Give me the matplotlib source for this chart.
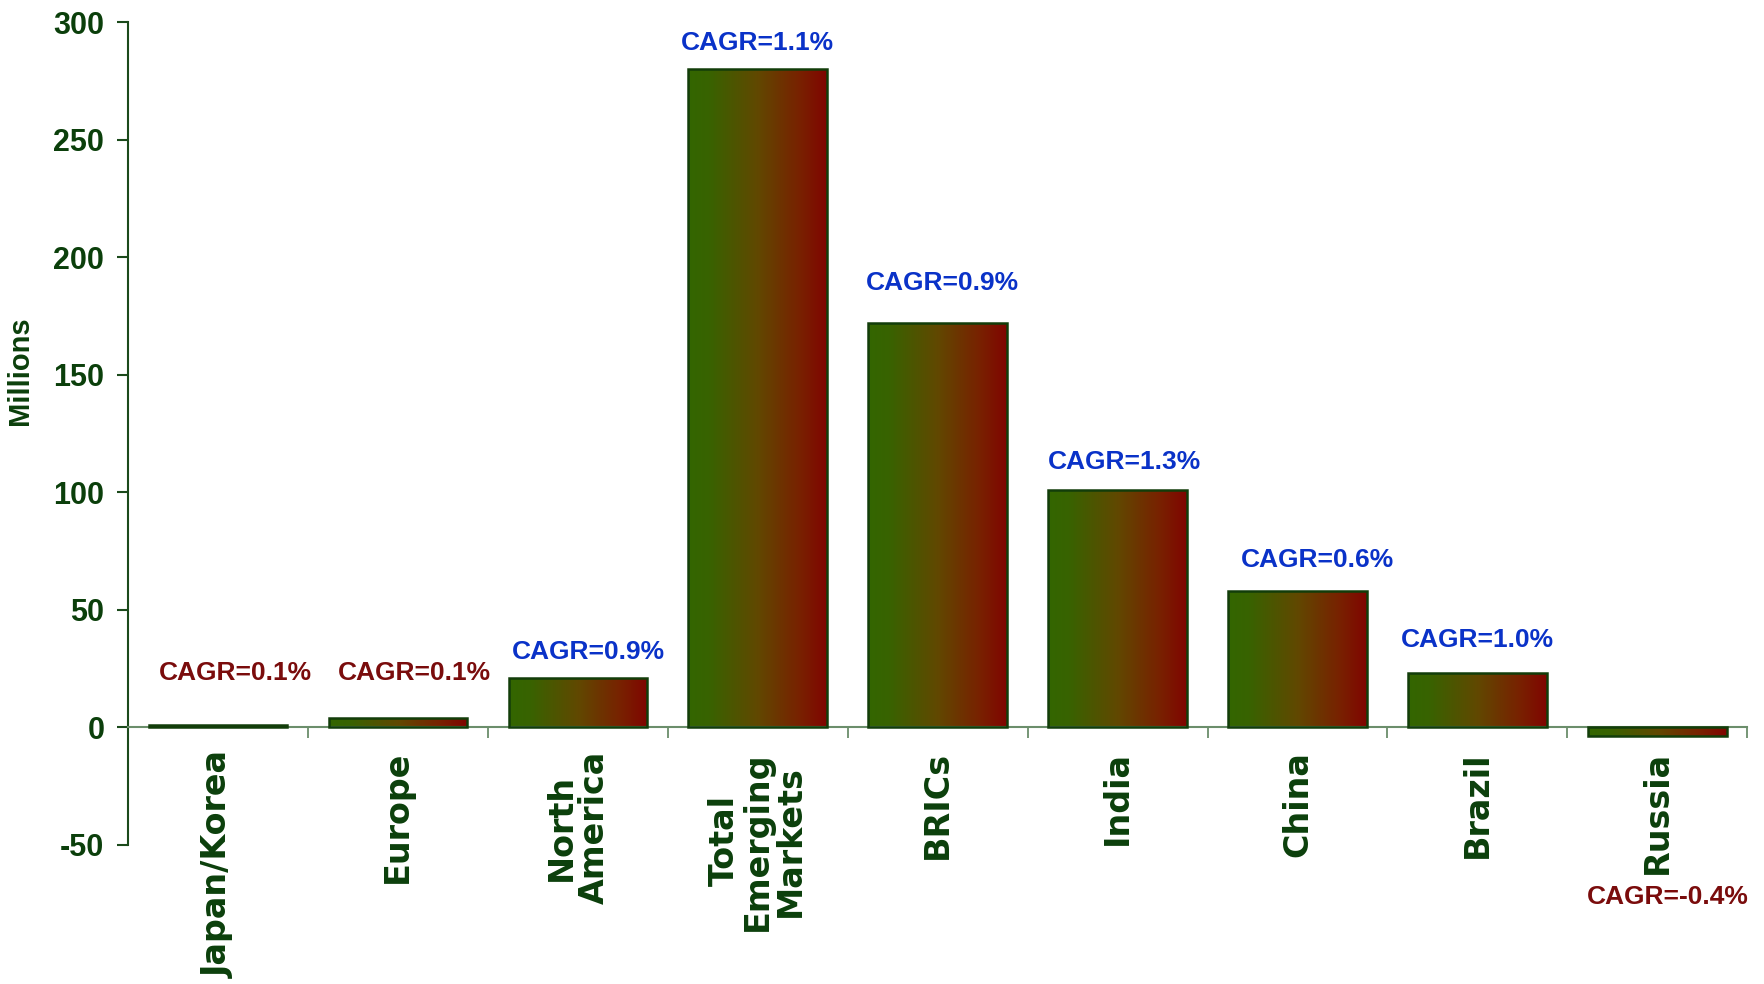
'''
Bar chart of millions by region with CAGR call-outs.
'''

import numpy as np
import matplotlib
matplotlib.use('Agg')
import matplotlib.pyplot as plt
from matplotlib.colors import LinearSegmentedColormap

REGIONS = [
    'Japan/Korea',
    'Europe',
    'North\nAmerica',
    'Total\nEmerging\nMarkets',
    'BRICs',
    'India',
    'China',
    'Brazil',
    'Russia',
]
VALUES = [1, 4, 21, 280, 172, 101, 58, 23, -3.5]
CAGR = [0.1, 0.1, 0.9, 1.1, 0.9, 1.3, 0.6, 1.0, -0.4]
Y_TICKS = [-50, 0, 50, 100, 150, 200, 250, 300]

DARK_GREEN = '#0b3f0b'
BLUE = '#0a32c8'
RED = '#7a0c0c'
BAR_CMAP = LinearSegmentedColormap.from_list(
    'green_red',
    [(0.0, '#336600'), (0.15, '#386300'), (0.5, '#614800'),
     (0.8, '#782200'), (1.0, '#800500')])

# call-out placement: sideways shift (bars) and gap above the bar (data units)
LABEL_SHIFT = [0.1, 0.09, 0.06, 0.0, 0.025, 0.04, 0.11, 0.0, 0.06]
LABEL_GAP = [12, 12, 11, 11, 17, 12, 13, 14, 0]


def gradient_bar(ax, bar):
    '''
    Fills a bar with a left-to-right green to red gradient.
    '''
    x0, y0 = bar.get_x(), bar.get_y()
    x1, y1 = x0 + bar.get_width(), y0 + bar.get_height()
    grad = np.linspace(0, 1, 256).reshape(1, -1)
    im = ax.imshow(grad, cmap=BAR_CMAP, aspect='auto',
                   extent=[x0, x1, min(y0, y1), max(y0, y1)],
                   interpolation='bicubic', zorder=2)
    im.set_clip_path(bar)


def main():
    fig = plt.figure(figsize=(17.65, 9.84), dpi=100)
    ax = fig.add_axes([0.0725, 0.1413, 0.9175, 0.8363])

    x = np.arange(len(REGIONS))
    bars = ax.bar(x, VALUES, width=0.77, facecolor='none',
                  edgecolor='#123d0a', linewidth=1.8, zorder=3)
    for b in bars:
        gradient_bar(ax, b)

    ax.set_xlim(-0.5, len(REGIONS) - 0.5)
    ax.set_ylim(-50, 300)

    # CAGR call-outs
    for i, (v, c) in enumerate(zip(VALUES, CAGR)):
        color = BLUE if c >= 0.5 else RED
        if v < 0:
            y = -72
        else:
            y = max(v, 11) + LABEL_GAP[i]
        ax.text(i + LABEL_SHIFT[i], y, 'CAGR={:.1f}%'.format(c),
                ha='center', va='center', color=color,
                fontsize=19, fontweight='bold', family='Liberation Sans')

    # axes styling
    for s in ['top', 'right']:
        ax.spines[s].set_visible(False)
    ax.spines['bottom'].set_position(('data', 0))
    ax.spines['bottom'].set_color('#6b8e6b')
    ax.spines['bottom'].set_linewidth(1.5)
    ax.spines['left'].set_color('#1b4a1b')
    ax.spines['left'].set_linewidth(1.5)

    ax.set_yticks(Y_TICKS)
    ax.set_yticklabels([str(t) for t in Y_TICKS])
    ax.tick_params(axis='y', length=8, width=1.5, color='#1b4a1b',
                   labelcolor=DARK_GREEN, pad=9)
    for lbl in ax.get_yticklabels():
        lbl.set_fontsize(22)
        lbl.set_fontweight('bold')
        lbl.set_family('Liberation Sans')

    ax.set_xticks(x)
    ax.set_xticklabels(REGIONS, rotation=90, ha='center', va='top',
                       multialignment='center', linespacing=1.0)
    ax.set_xticks(x + 0.5, minor=True)
    ax.tick_params(axis='x', which='major', length=0, pad=17,
                   labelcolor=DARK_GREEN)
    ax.tick_params(axis='x', which='minor', length=8, width=1.3,
                   color='#6b8e6b')
    for lbl in ax.get_xticklabels():
        lbl.set_fontsize(24)
        lbl.set_fontweight('bold')
        lbl.set_family('DejaVu Sans')

    ax.set_ylabel('Millions', color=DARK_GREEN, fontsize=21,
                  fontweight='bold', family='Liberation Sans')
    ax.yaxis.set_label_coords(-0.058, 0.576)

    fig.savefig('out.png', dpi=100, facecolor='white')


if __name__ == '__main__':
    main()
